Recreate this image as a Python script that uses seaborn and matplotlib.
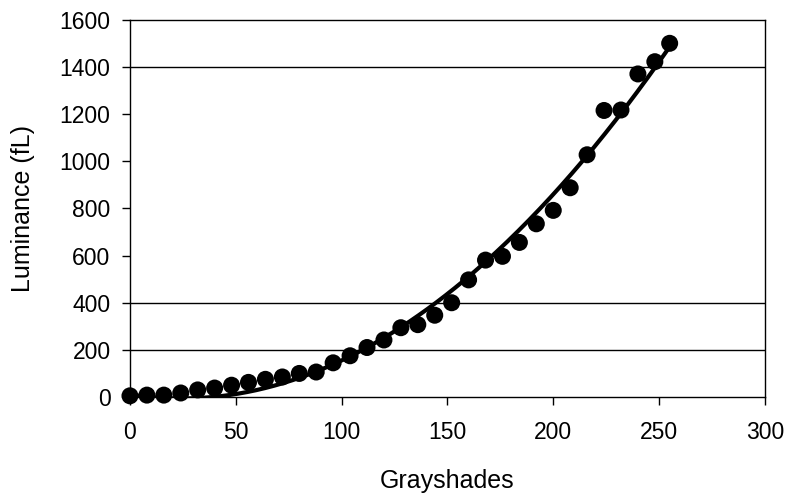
import numpy as np
import pandas as pd
import seaborn as sns
import matplotlib.pyplot as plt

# grayshade levels (steps of 8, last one 255)
grayshades = [0, 8, 16, 24, 32, 40, 48, 56, 64, 72, 80, 88, 96, 104, 112, 120,
              128, 136, 144, 152, 160, 168, 176, 184, 192, 200, 208, 216, 224,
              232, 240, 248, 255]
luminance = [5, 8, 8, 17, 30, 38, 50, 62, 75, 85, 100, 106, 145, 175, 210, 242,
             294, 307, 347, 400, 497, 581, 597, 656, 735, 792, 888, 1028, 1216,
             1218, 1371, 1423, 1501]

# 2nd order trend line as drawn in the reference (a*x^2 + b*x + c)
trend_coef = [0.0280, -1.35, 10.0]

# horizontal rules that survive in the reference
grid_levels = [200, 400, 1400]


def main():
    df = pd.DataFrame({'Grayshades': grayshades, 'Luminance': luminance})

    xs = np.linspace(min(grayshades), max(grayshades), 300)
    trend = pd.DataFrame({'Grayshades': xs,
                          'Luminance': np.polyval(trend_coef, xs)})

    sns.set_style('white', {'text.color': 'black', 'axes.labelcolor': 'black',
                            'xtick.color': 'black', 'ytick.color': 'black'})
    plt.rcParams['font.family'] = ['Liberation Sans', 'DejaVu Sans']

    fig = plt.figure(figsize=(7.91, 4.96), dpi=100)
    ax = fig.add_axes([0.1643, 0.1996, 0.8027, 0.7601])

    for lvl in grid_levels:
        ax.axhline(lvl, color='black', lw=1.0, zorder=0)

    sns.lineplot(x='Grayshades', y='Luminance', data=trend, color='black',
                 lw=3.0, zorder=2, ax=ax)
    sns.scatterplot(x='Grayshades', y='Luminance', data=df, color='black',
                    s=150, edgecolor='none', zorder=3, clip_on=False, ax=ax)

    ax.set_xlim(0, 300)
    ax.set_ylim(0, 1600)
    ax.set_xticks(range(0, 301, 50))
    ax.set_yticks(range(0, 1601, 200))

    ax.set_xlabel('Grayshades', fontsize=18, color='black')
    ax.set_ylabel('Luminance (fL)', fontsize=18, color='black')
    ax.xaxis.set_label_coords(0.5, -0.19)
    ax.yaxis.set_label_coords(-0.150, 0.5)
    ax.tick_params(axis='both', labelsize=16.5, direction='out', length=6,
                   width=1.0, color='black', labelcolor='black',
                   left=True, bottom=True)
    ax.tick_params(axis='x', pad=11)
    ax.tick_params(axis='y', pad=8)

    for side in ['left', 'bottom', 'right', 'top']:
        ax.spines[side].set_visible(True)
        ax.spines[side].set_color('black')
        ax.spines[side].set_linewidth(1.0)

    plt.savefig('out.png', dpi=100)


if __name__ == '__main__':
    main()
